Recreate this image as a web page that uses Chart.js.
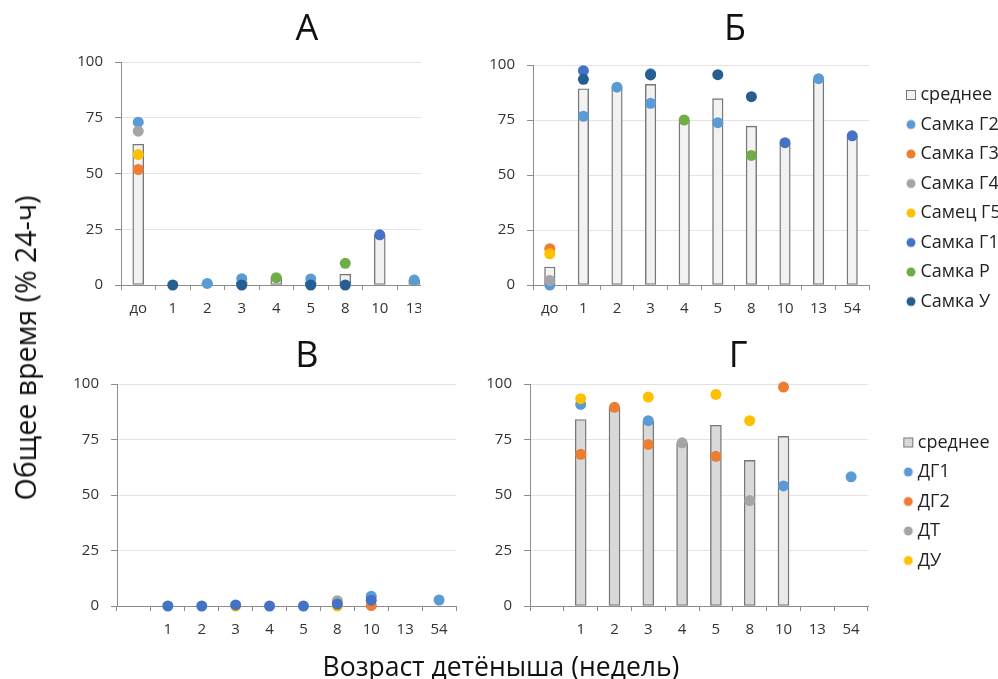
<!DOCTYPE html>
<html lang="ru">
<head>
<meta charset="utf-8">
<title>Общее время</title>
<script src="https://cdn.jsdelivr.net/npm/chart.js@4.4.1/dist/chart.umd.min.js"></script>
<style>
  html, body { margin: 0; padding: 0; background: #fff; overflow: hidden; }
  body { width: 998px; height: 679px; position: relative; font-family: 'Open Sans', sans-serif; color: #111; }
  canvas { position: absolute; }
  .clip { position: absolute; overflow: hidden; }
  .ytitle { position: absolute; left: 25px; top: 348px; transform: translate(-50%, -50%) rotate(-90deg); white-space: nowrap; font-size: 28.5px; }
  .xtitle { position: absolute; left: 501px; top: 666px; transform: translate(-50%, -50%); white-space: nowrap; font-size: 26.5px; }
</style>
</head>
<body>
<div class="clip" style="left:0;top:0;width:421px;height:340px">
  <canvas id="chartA" width="614" height="340" style="left:0;top:0"></canvas>
</div>
<canvas id="chartB" width="550" height="340" style="left:460px;top:0"></canvas>
<canvas id="chartV" width="614" height="340" style="left:0;top:320px"></canvas>
<canvas id="chartG" width="544" height="340" style="left:466px;top:320px"></canvas>
<div class="ytitle">Общее время (% 24-ч)</div>
<div class="xtitle">Возраст детёныша (недель)</div>
<script>
// ---- data ----
const weeksA = ['до', '1', '2', '3', '4', '5', '8', '10', '13'];
const meanA = [63.1, 0, 0.7, 1.4, 3.3, 1.35, 4.85, 22.5, 2.2];
const g2A = [73, null, 0.7, 2.8, null, 2.7, null, null, 2.2];
const g3A = [51.8, null, null, null, null, null, null, null, null];
const g4A = [69, null, null, null, null, null, null, null, null];
const g5A = [58.5, null, null, null, null, null, null, null, null];
const g1A = [null, null, null, null, null, null, null, 22.5, null];
const rA = [null, null, null, null, 3.3, null, 9.7, null, null];
const uA = [null, 0, null, 0, null, 0, 0, null, null];

const weeksB = ['до', '1', '2', '3', '4', '5', '8', '10', '13', '54'];
const meanB = [8.2, 89.2, 89.8, 91.2, 75, 84.7, 72.2, 64.5, 93.8, 67.6];
const g2B = [0, 76.7, 89.9, 82.6, null, 73.8, null, null, 93.8, null];
const g3B = [16.5, null, null, null, null, null, null, null, null, null];
const g4B = [2.1, null, null, null, null, null, null, null, null, null];
const g5B = [14.2, null, null, null, null, null, null, null, null, null];
const g1B = [null, 97.4, null, 96, null, null, null, 64.7, null, 67.8];
const rB = [null, null, null, null, 75, null, 58.9, null, null, null];
const uB = [null, 93.5, null, 95.5, null, 95.6, 85.6, null, null, null];

const weeksV = ['', '1', '2', '3', '4', '5', '8', '10', '13', '54'];
const v1 = [null, null, null, null, null, null, null, 4.4, null, 2.7];
const v2 = [null, null, null, null, null, null, null, 0.2, null, null];
const v3 = [null, null, null, null, null, null, 2.4, null, null, null];
const v4 = [null, null, null, 0, null, null, 0, null, null, null];
const v5 = [null, 0, 0, 0.5, 0, 0, 0.9, 2.6, null, null];

const weeksG = ['', '1', '2', '3', '4', '5', '8', '10', '13', '54'];
const meanG = [null, 84, 89.5, 83.3, 73.4, 81.4, 65.6, 76.4, null, null];
const dg1 = [null, 90.8, null, 83.5, null, null, null, 54.1, null, 58.2];
const dg2 = [null, 68.3, 89.5, 72.8, null, 67.4, null, 98.6, null, null];
const dt = [null, null, null, null, 73.5, null, 47.5, null, null, null];
const du = [null, 93.4, null, 94.1, null, 95.3, 83.5, null, null, null];

// ---- styling ----
const BLUE = '#5B9BD5', ORANGE = '#ED7D31', GRAY = '#A5A5A5', GOLD = '#FFC000',
      BLUE2 = '#4472C4', GREEN = '#70AD47', NAVY = '#255E91';
const GRID = '#e3e3e3';
const AXIS = '#8c8c8c';
const barFillG = ['#d9d9d9', '#d9d9d9', '#d9d9d9', '#d9d9d9', '#d9d9d9', '#d9d9d9', '#d9d9d9', '#e9e9e9', '#d9d9d9', '#d9d9d9'];

Chart.defaults.font.family = "'Open Sans', sans-serif";
Chart.defaults.color = '#333';
Chart.defaults.animation = false;
Chart.defaults.events = [];

function dots(label, data, color, i) {
  return {
    type: 'line', label: label, data: data, showLine: false,
    backgroundColor: color, borderColor: color,
    pointRadius: 5.5, pointHoverRadius: 5.5, pointBorderWidth: 0,
    order: 50 - i, clip: false
  };
}

function bars(data, fill, thickness) {
  return {
    type: 'bar', label: 'среднее', data: data,
    backgroundColor: fill, borderColor: '#777', borderWidth: 1.4,
    borderSkipped: false, barThickness: thickness, order: 100
  };
}

function yScale(width) {
  return {
    min: 0, max: 100,
    ticks: { stepSize: 25, font: { size: 15 }, padding: 12 },
    grid: { color: GRID, tickColor: AXIS, tickLength: 6 },
    border: { color: AXIS },
    afterFit(s) { s.width = width; }
  };
}

function xScale(height) {
  return {
    type: 'category', offset: true,
    grid: { offset: true, drawOnChartArea: false, tickColor: AXIS, tickLength: 5 },
    border: { color: AXIS },
    ticks: { font: { size: 15 }, padding: 10, autoSkip: false, maxRotation: 0 },
    afterFit(s) { s.height = height; }
  };
}

// empty axis on the right, only keeps room between plot and legend
function spacer(width) {
  return {
    type: 'linear', position: 'right',
    grid: { display: false, drawTicks: false },
    border: { display: false },
    ticks: { display: false },
    afterFit(s) { s.width = width; }
  };
}

function title(text, padTop, padBottom) {
  return {
    display: true, text: text, color: '#111',
    font: { size: 36, weight: 'normal' },
    padding: { top: padTop, bottom: padBottom }
  };
}

function legendMarker(item, isBar) {
  const c = document.createElement('canvas');
  c.width = 12; c.height = 12;
  const g = c.getContext('2d');
  g.fillStyle = item.fillStyle;
  if (isBar) {
    g.fillRect(1, 1, 10, 10);
    g.strokeStyle = '#777';
    g.lineWidth = 1;
    g.strokeRect(1.5, 1.5, 9, 9);
  } else {
    g.beginPath();
    g.arc(6, 6, 4.5, 0, Math.PI * 2);
    g.fill();
  }
  return c;
}

function legend(show, topGap) {
  return {
    display: show, position: 'right', align: 'start',
    title: { display: true, text: ' ', font: { size: 10 }, padding: { top: topGap, bottom: 0 } },
    labels: {
      usePointStyle: true, boxWidth: 1, padding: 11.5, color: '#222',
      font: { size: 18 },
      sort: (a, b) => a.datasetIndex - b.datasetIndex,
      generateLabels(chart) {
        const items = Chart.defaults.plugins.legend.labels.generateLabels(chart);
        items.forEach(it => {
          it.pointStyle = legendMarker(it, chart.data.datasets[it.datasetIndex].type === 'bar');
        });
        return items;
      }
    }
  };
}

// fixes the legend box width so the plot area ends where it should
const legendWidth = {
  id: 'legendWidth',
  beforeInit(chart, args, opts) {
    const leg = chart.legend;
    if (!leg || !opts.width) return;
    const fit = leg.fit;
    leg.fit = function () {
      fit.call(this);
      this.width = opts.width;
    };
  }
};

// ---- А ----
new Chart(document.getElementById('chartA'), {
  type: 'bar',
  data: {
    labels: weeksA,
    datasets: [
      bars(meanA, '#f2f2f2', 11),
      dots('Самка Г2', g2A, BLUE, 0),
      dots('Самка Г3', g3A, ORANGE, 1),
      dots('Самка Г4', g4A, GRAY, 2),
      dots('Самец Г5', g5A, GOLD, 3),
      dots('Самка Г1', g1A, BLUE2, 4),
      dots('Самка Р', rA, GREEN, 5),
      dots('Самка У', uA, NAVY, 6)
    ]
  },
  options: {
    responsive: false,
    layout: { padding: 0 },
    scales: { x: xScale(55), y: yScale(121), sp: spacer(182.5) },
    plugins: { title: title('А', 8, 10.8), legend: { display: false }, tooltip: { enabled: false } }
  }
});

// ---- Б ----
new Chart(document.getElementById('chartB'), {
  type: 'bar',
  data: {
    labels: weeksB,
    datasets: [
      bars(meanB, '#f2f2f2', 10.5),
      dots('Самка Г2', g2B, BLUE, 0),
      dots('Самка Г3', g3B, ORANGE, 1),
      dots('Самка Г4', g4B, GRAY, 2),
      dots('Самец Г5', g5B, GOLD, 3),
      dots('Самка Г1', g1B, BLUE2, 4),
      dots('Самка Р', rB, GREEN, 5),
      dots('Самка У', uB, NAVY, 6)
    ]
  },
  options: {
    responsive: false,
    layout: { padding: 0 },
    scales: { x: xScale(55), y: yScale(73), sp: spacer(30) },
    plugins: {
      title: title('Б', 8, 13.8),
      legend: legend(true, 62.5),
      legendWidth: { width: 111 },
      tooltip: { enabled: false }
    }
  },
  plugins: [legendWidth]
});

// ---- В ----
new Chart(document.getElementById('chartV'), {
  type: 'line',
  data: {
    labels: weeksV,
    datasets: [
      dots('В1', v1, BLUE, 0),
      dots('В2', v2, ORANGE, 1),
      dots('В3', v3, GRAY, 2),
      dots('В4', v4, GOLD, 3),
      dots('В5', v5, BLUE2, 4)
    ]
  },
  options: {
    responsive: false,
    layout: { padding: 0 },
    scales: { x: xScale(54), y: yScale(117), sp: spacer(158) },
    plugins: { title: title('В', 15.4, 5.4), legend: { display: false }, tooltip: { enabled: false } }
  }
});

// ---- Г ----
new Chart(document.getElementById('chartG'), {
  type: 'bar',
  data: {
    labels: weeksG,
    datasets: [
      bars(meanG, barFillG, 11),
      dots('ДГ1', dg1, BLUE, 0),
      dots('ДГ2', dg2, ORANGE, 1),
      dots('ДТ', dt, GRAY, 2),
      dots('ДУ', du, GOLD, 3)
    ]
  },
  options: {
    responsive: false,
    layout: { padding: 0 },
    scales: { x: xScale(54), y: yScale(64), sp: spacer(28.3) },
    plugins: {
      title: title('Г', 15.4, 5.4),
      legend: legend(true, 90),
      legendWidth: { width: 113.7 },
      tooltip: { enabled: false }
    }
  },
  plugins: [legendWidth]
});
</script>
</body>
</html>
